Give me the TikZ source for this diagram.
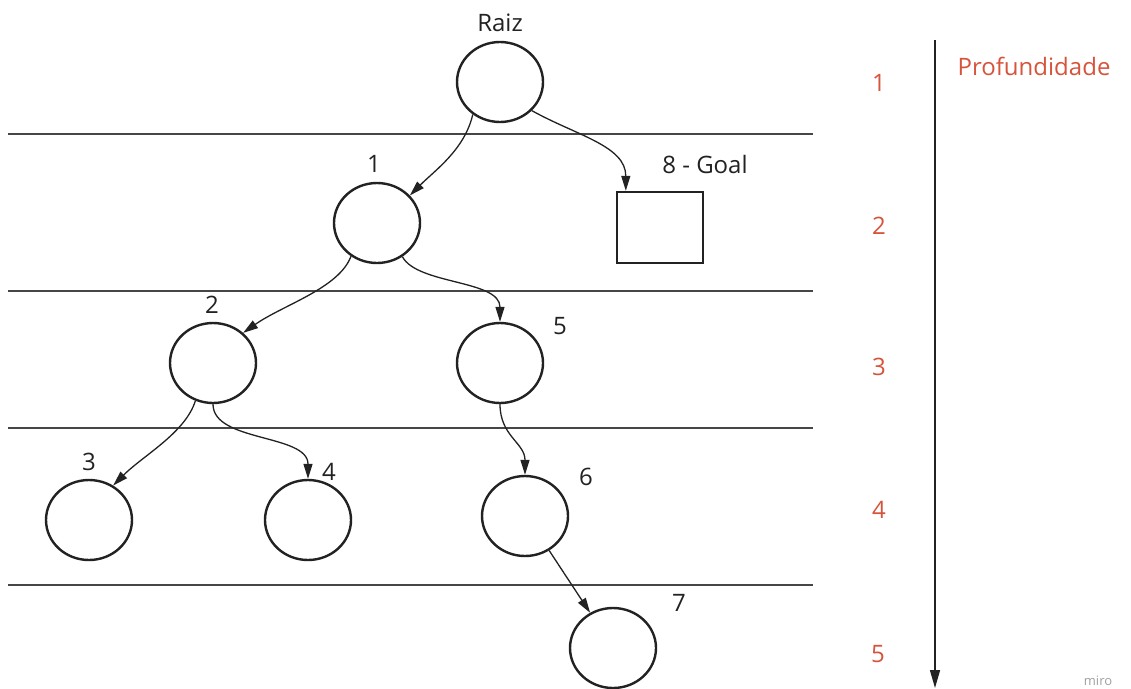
\documentclass[tikz,border=0pt]{standalone}
\usepackage{fontspec}
\setmainfont{Open Sans}
\usetikzlibrary{shapes.geometric,arrows.meta}
\definecolor{depthred}{RGB}{214,84,60}
\definecolor{ink}{RGB}{34,34,34}
\definecolor{rule}{RGB}{70,70,70}
\definecolor{wm}{RGB}{160,160,160}
\tikzset{
  treenode/.style={ellipse,draw=ink,line width=2.4pt,minimum width=86pt,minimum height=80pt,inner sep=0pt},
  goalbox/.style={rectangle,draw=ink,line width=2.4pt,minimum width=86pt,minimum height=71pt,inner sep=0pt},
  lbl/.style={font=\fontsize{24}{28}\selectfont,text=ink,inner sep=0pt,text height=17pt,text depth=0pt},
  depthlbl/.style={lbl,text=depthred},
  conn/.style={draw=ink,line width=1.3pt,-{Triangle[length=15pt,width=9pt]}},
  level/.style={draw=rule,line width=1.5pt}
}
\begin{document}
\begin{tikzpicture}[x=1pt,y=-1pt]
\useasboundingbox[fill=white] (0,0) rectangle (1131,688);
% level lines
\coordinate (l1a) at (8,134); \coordinate (l1b) at (813,134);
\coordinate (l2a) at (8,291); \coordinate (l2b) at (813,291);
\coordinate (l3a) at (8,428); \coordinate (l3b) at (813,428);
\coordinate (l4a) at (8,585); \coordinate (l4b) at (813,585);
\draw[level] (l1a) -- (l1b);
\draw[level] (l2a) -- (l2b);
\draw[level] (l3a) -- (l3b);
\draw[level] (l4a) -- (l4b);
% nodes
\node[treenode] (raiz) at (500,82) {};
\node[treenode] (n1) at (377,223) {};
\node[goalbox] (goal) at (660,227.5) {};
\node[treenode] (n2) at (213,363) {};
\node[treenode] (n5) at (500,363) {};
\node[treenode] (n3) at (89,520) {};
\node[treenode] (n4) at (308,520) {};
\node[treenode] (n6) at (525,516) {};
\node[treenode] (n7) at (613,648) {};
% labels
\node[lbl] (traiz) at (500,23) {Raiz};
\node[lbl] (t1) at (374,164) {1};
\node[lbl] (tgoal) at (705,165) {8 - Goal};
\node[lbl] (t2) at (212,305) {2};
\node[lbl] (t5) at (560,326) {5};
\node[lbl] (t3) at (89,462) {3};
\node[lbl] (t4) at (329,472) {4};
\node[lbl] (t6) at (586,477) {6};
\node[lbl] (t7) at (679,603) {7};
% connectors
\draw[conn] (raiz.230) .. controls +(-8,35) and +(25,-25) .. (n1.40);
\draw[conn] (raiz.318) .. controls +(45,25) and +(0,-45) .. ([xshift=10pt]goal.north west);
\draw[conn] (n1.232) .. controls +(-12,32) and +(40,-28) .. (n2.45);
\draw[conn] (n1.307) .. controls +(15,28) and +(0,-42) .. (n5.north);
\draw[conn] (n2.245) .. controls +(-10,32) and +(30,-30) .. (n3.55);
\draw[conn] (n2.south) .. controls +(0,38) and +(0,-45) .. (n4.north);
\draw[conn] (n5.south) .. controls +(0,32) and +(0,-32) .. (n6.north);
\draw[conn] (n6.305) -- (n7.123);
% depth axis
\node[depthlbl] (d1) at (879,83) {1};
\node[depthlbl] (d2) at (879,226) {2};
\node[depthlbl] (d3) at (879,367) {3};
\node[depthlbl] (d4) at (879,510) {4};
\node[depthlbl] (d5) at (878,654) {5};
\node[depthlbl] (prof) at (1034,67) {Profundidade};
\coordinate (axtop) at (935,40);
\coordinate (axbot) at (935,688);
\draw[draw=ink,line width=1.6pt,-{Triangle[length=18pt,width=10pt]}] (axtop) -- (axbot);
\node[font=\fontsize{13}{15}\selectfont,text=wm,inner sep=0pt] (miro) at (1098,681) {miro};
\end{tikzpicture}
\end{document}
